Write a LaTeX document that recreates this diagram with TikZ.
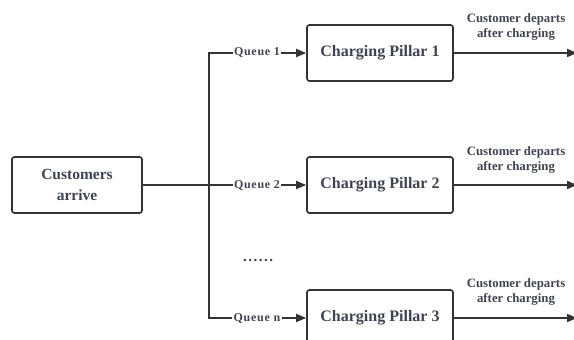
\documentclass[tikz,border=0pt]{standalone}
\usepackage{fontspec}
\setmainfont{Liberation Serif}
\usetikzlibrary{arrows.meta}
\definecolor{linegray}{HTML}{333333}
\definecolor{textgray}{HTML}{3E4451}

\begin{document}
\begin{tikzpicture}[x=1pt,y=-1pt,
  box/.style={draw=linegray,line width=1.7pt,rounded corners=2.5pt,fill=white,text=textgray,
    font=\bfseries\fontsize{16}{20}\selectfont,minimum width=146pt,minimum height=56pt,align=center},
  queue/.style={text=textgray,font=\bfseries\fontsize{12}{13}\selectfont\addfontfeatures{LetterSpace=6},inner sep=1pt},
  depart/.style={text=textgray,font=\bfseries\fontsize{12.8}{15}\selectfont,align=center,inner sep=0pt},
  link/.style={draw=linegray,line width=1.8pt,line join=miter},
  tip/.style={-{Triangle[length=10pt,width=8pt]}}]
\useasboundingbox (0,0) rectangle (574,340);
\clip (0,0) rectangle (574,340);
\node[box,minimum width=130pt,font=\bfseries\fontsize{15.5}{21}\selectfont] (arrive) at (77,185) {Customers\\arrive};
\node[box] (p1) at (380,53) {Charging Pillar 1};
\node[box] (p2) at (380,185) {Charging Pillar 2};
\node[box] (p3) at (380,318) {Charging Pillar 3};
\coordinate (j1) at (209,53);
\coordinate (j3) at (209,318);
\node[queue] (q1) at (257,53) {Queue 1};
\node[queue] (q2) at (257,185) {Queue 2};
\node[queue] (q3) at (257,318) {Queue n};
\node[queue,font=\bfseries\fontsize{15}{18}\selectfont\addfontfeatures{LetterSpace=10}] (dots) at (258,260) {......};
\coordinate (o1) at (577,53);
\coordinate (o2) at (577,185);
\coordinate (o3) at (577,318);
\node[depart] (d1) at (516,27) {Customer departs\\after charging};
\node[depart] (d2) at (516,160) {Customer departs\\after charging};
\node[depart] (d3) at (516,292) {Customer departs\\after charging};
\draw[link] (q1.west) -- (j1) -- (j3) -- (q3.west);
\draw[link] (arrive) -- (q2);
\draw[link,tip] (q1) -- (p1);
\draw[link,tip] (q2) -- (p2);
\draw[link,tip] (q3) -- (p3);
\draw[link,tip] (p1) -- (o1);
\draw[link,tip] (p2) -- (o2);
\draw[link,tip] (p3) -- (o3);
\end{tikzpicture}
\end{document}
